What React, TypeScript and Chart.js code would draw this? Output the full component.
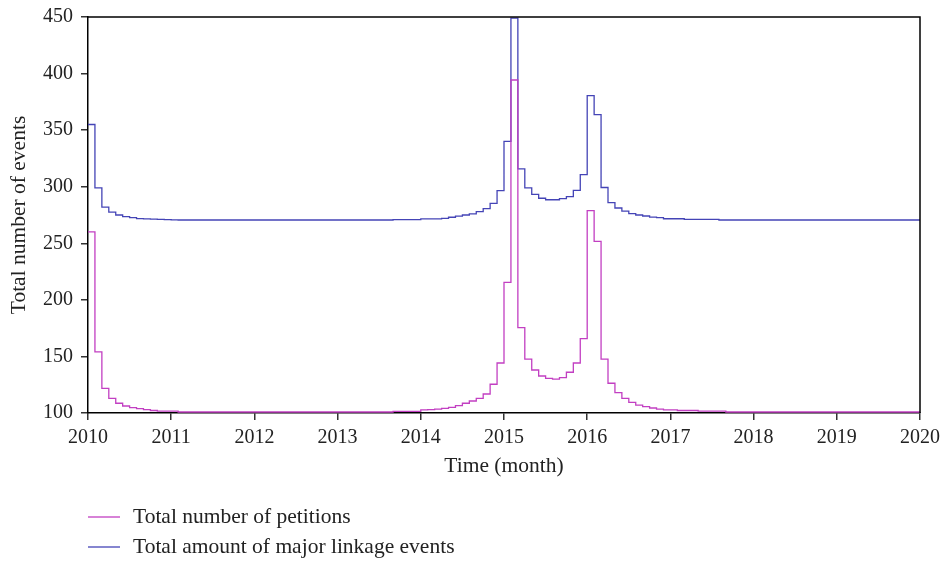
import React, { useEffect, useRef } from "react";
import { Chart, registerables } from "chart.js";

Chart.register(...registerables);

// Monthly values, Jan 2010 .. Dec 2019 (120 months)
const startYear = 2010;
const petitions: number[] = [
  260, 154, 121.8, 113, 108.6, 106.2, 104.7, 103.8, 102.9, 102.2, 101.6, 101.6,
  101.6, 100.9, 100.9, 100.9, 100.9, 100.9, 100.9, 100.9, 100.9, 100.9, 100.9, 100.9,
  100.9, 100.9, 100.9, 100.9, 100.9, 100.9, 100.9, 100.9, 100.9, 100.9, 100.9, 100.9,
  100.9, 100.9, 100.9, 100.9, 100.9, 100.9, 100.9, 100.9, 101.5, 101.5, 101.5, 101.5,
  102.7, 103, 103.5, 104.1, 105, 106.5, 108.6, 110.6, 113, 116.8, 125.4, 144.2,
  215.5, 394.3, 175.4, 147.7, 138, 132.7, 130.6, 130, 131.2, 136, 144.2, 165.7,
  278.8, 251.7, 147.7, 126.3, 118, 113, 109.4, 107, 105.6, 104.4, 103.5, 102.8,
  102.8, 102.2, 102.2, 102.2, 101.6, 101.6, 101.6, 101.6, 100.9, 100.9, 100.9, 100.9,
  100.9, 100.9, 100.9, 100.9, 100.9, 100.9, 100.9, 100.9, 100.9, 100.9, 100.9, 100.9,
  100.9, 100.9, 100.9, 100.9, 100.9, 100.9, 100.9, 100.9, 100.9, 100.9, 100.9, 100.9,
];
const linkage: number[] = [
  355, 299, 282, 277.5, 275, 273.5, 272.6, 271.8, 271.6, 271.3, 271.1, 271,
  270.7, 270.6, 270.6, 270.6, 270.6, 270.6, 270.6, 270.6, 270.6, 270.6, 270.6, 270.6,
  270.6, 270.6, 270.6, 270.6, 270.6, 270.6, 270.6, 270.6, 270.6, 270.6, 270.6, 270.6,
  270.6, 270.6, 270.6, 270.6, 270.6, 270.6, 270.6, 270.6, 271, 271, 271, 271,
  271.5, 271.5, 271.5, 272, 273, 274, 275, 276, 278, 280.6, 285.3, 296.5,
  340, 449, 315.7, 299, 293.3, 289.8, 288.5, 288.5, 289.4, 291.2, 296.8, 310.6,
  380.5, 363.7, 299.3, 286, 281.2, 278.5, 276.2, 275, 274.1, 273.2, 272.6, 271.7,
  271.7, 271.7, 271.1, 271.1, 271.1, 271.1, 271.1, 270.6, 270.6, 270.6, 270.6, 270.6,
  270.6, 270.6, 270.6, 270.6, 270.6, 270.6, 270.6, 270.6, 270.6, 270.6, 270.6, 270.6,
  270.6, 270.6, 270.6, 270.6, 270.6, 270.6, 270.6, 270.6, 270.6, 270.6, 270.6, 270.6,
];
const xTickLabels: string[] = ["2010", "2011", "2012", "2013", "2014", "2015", "2016", "2017", "2018", "2019", "2020"];
const yTicks: number[] = [100, 150, 200, 250, 300, 350, 400, 450];
const seriesNames: string[] = ["Total number of petitions", "Total amount of major linkage events"];
const seriesColors: string[] = ["#c23fc2", "#4444b6"];

const FONT = "'Liberation Serif', 'Times New Roman', serif";

function toPoints(values: number[]) {
  const pts = values.map((v, i) => ({ x: startYear + i / 12, y: v }));
  pts.push({ x: startYear + values.length / 12, y: values[values.length - 1] });
  return pts;
}

const framePlugin = {
  id: "frameAndLegend",
  afterDraw(chart: any) {
    const { ctx, chartArea } = chart;
    ctx.save();
    ctx.strokeStyle = "#000";
    ctx.lineWidth = 1.5;
    ctx.beginPath();
    ctx.moveTo(chartArea.left, chartArea.top);
    ctx.lineTo(chartArea.right, chartArea.top);
    ctx.lineTo(chartArea.right, chartArea.bottom);
    ctx.stroke();
    // legend
    ctx.font = `21.5px ${FONT}`;
    ctx.textBaseline = "middle";
    ctx.fillStyle = "#222";
    const rows = [517, 547];
    seriesNames.forEach((name, i) => {
      const y = rows[i];
      ctx.strokeStyle = seriesColors[i];
      ctx.lineWidth = 1.3;
      ctx.beginPath();
      ctx.moveTo(chartArea.left, y);
      ctx.lineTo(chartArea.left + 32, y);
      ctx.stroke();
      ctx.fillText(name, chartArea.left + 45, y);
    });
    ctx.restore();
  },
};

export default function App() {
  const ref = useRef<HTMLCanvasElement | null>(null);
  useEffect(() => {
    document.body.style.margin = "0";
    const canvas = ref.current!;
    const chart = new Chart(canvas, {
      type: "line",
      data: {
        datasets: [
          {
            label: seriesNames[0],
            data: toPoints(petitions),
            borderColor: seriesColors[0],
            borderWidth: 1.3,
            pointRadius: 0,
            stepped: true,
            fill: false,
          },
          {
            label: seriesNames[1],
            data: toPoints(linkage),
            borderColor: seriesColors[1],
            borderWidth: 1.3,
            pointRadius: 0,
            stepped: true,
            fill: false,
          },
        ],
      },
      options: {
        animation: false,
        responsive: false,
        maintainAspectRatio: false,
        layout: { padding: { top: 17, right: 24, left: 0, bottom: 82 } },
        plugins: { legend: { display: false }, tooltip: { enabled: false } },
        scales: {
          x: {
            type: "linear",
            min: 2010,
            max: 2020,
            afterFit: (s: any) => {
              s.height = 68;
              s.paddingLeft = 0;
              s.paddingRight = 0;
            },
            afterBuildTicks: (s: any) => {
              s.ticks = xTickLabels.map((t) => ({ value: Number(t) }));
            },
            ticks: {
              callback: (v: any) => xTickLabels[xTickLabels.indexOf(String(v))] ?? "",
              font: { family: FONT, size: 20 },
              color: "#222",
              padding: 6,
              maxRotation: 0,
              autoSkip: false,
            },
            grid: { drawOnChartArea: false, drawTicks: true, tickLength: 7, color: "#333", lineWidth: 1.5 },
            border: { display: true, color: "#000", width: 1.5 },
            title: {
              display: true,
              text: "Time (month)",
              font: { family: FONT, size: 21.5 },
              color: "#222",
              padding: { top: 4, bottom: 2 },
            },
          },
          y: {
            type: "linear",
            min: 100,
            max: 450,
            afterFit: (s: any) => {
              s.width = 88;
              s.paddingTop = 0;
              s.paddingBottom = 0;
            },
            afterBuildTicks: (s: any) => {
              s.ticks = yTicks.map((v) => ({ value: v }));
            },
            ticks: {
              callback: (v: any) => String(v),
              font: { family: FONT, size: 20 },
              color: "#222",
              padding: 8,
            },
            grid: { drawOnChartArea: false, drawTicks: true, tickLength: 7, color: "#333", lineWidth: 1.5 },
            border: { display: true, color: "#000", width: 1.5 },
            title: {
              display: true,
              text: "Total number of events",
              font: { family: FONT, size: 21.5 },
              color: "#222",
              padding: { top: 6, bottom: 4 },
            },
          },
        },
      },
      plugins: [framePlugin],
    });
    return () => chart.destroy();
  }, []);
  return (
    <div style={{ width: 944, height: 563 }}>
      <canvas ref={ref} width={944} height={563} style={{ display: "block" }} />
    </div>
  );
}
